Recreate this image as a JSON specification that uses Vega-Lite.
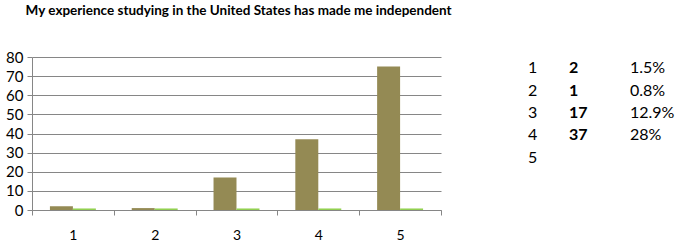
{
  "$schema": "https://vega.github.io/schema/vega-lite/v6.json",
  "padding": {"left": 5, "top": 3, "right": 0, "bottom": 0},
  "bounds": "flush",
  "spacing": 87,
  "title": {"text": "My experience studying in the United States has made me independent", "anchor": "start", "font": "Lato", "fontSize": 13.5, "fontWeight": "bold", "color": "#000000", "offset": 33, "dx": 20},
  "config": {"view": {"stroke": null}, "font": "Lato"},
  "hconcat": [
    {
      "width": 409,
      "height": 153,
      "data": {"values": [
        {"answer": "1", "series": "a", "value": 2},
        {"answer": "1", "series": "b", "value": 0.8},
        {"answer": "2", "series": "a", "value": 1},
        {"answer": "2", "series": "b", "value": 0.8},
        {"answer": "3", "series": "a", "value": 17},
        {"answer": "3", "series": "b", "value": 0.8},
        {"answer": "4", "series": "a", "value": 37},
        {"answer": "4", "series": "b", "value": 0.8},
        {"answer": "5", "series": "a", "value": 75},
        {"answer": "5", "series": "b", "value": 0.8}
      ]},
      "mark": {"type": "bar"},
      "encoding": {
        "x": {"field": "answer", "type": "nominal", "title": null,
              "scale": {"paddingInner": 0, "paddingOuter": 0},
              "axis": {"labelAngle": 0, "tickBand": "extent", "tickSize": 5, "labelPadding": 13, "labelFontSize": 14, "labelColor": "#000000", "domainColor": "#868686", "tickColor": "#868686", "grid": false}},
        "xOffset": {"field": "series", "scale": {"paddingInner": 0, "paddingOuter": 0.78}},
        "y": {"field": "value", "type": "quantitative", "title": null,
              "scale": {"domain": [0, 80], "nice": false},
              "axis": {"values": [0, 10, 20, 30, 40, 50, 60, 70, 80], "tickSize": 5, "labelPadding": 4, "labelFontSize": 15, "labelColor": "#000000", "domainColor": "#868686", "tickColor": "#868686", "gridColor": "#868686", "gridOpacity": 1}},
        "color": {"field": "series", "type": "nominal", "legend": null,
                  "scale": {"domain": ["a", "b"], "range": ["#948A54", "#92D050"]}}
      }
    },
    {
      "width": 130,
      "height": 112,
      "data": {"values": [
        {"answer": "1", "count": "2", "percent": "1.5%"},
        {"answer": "2", "count": "1", "percent": "0.8%"},
        {"answer": "3", "count": "17", "percent": "12.9%"},
        {"answer": "4", "count": "37", "percent": "28%"},
        {"answer": "5", "count": "", "percent": ""}
      ]},
      "encoding": {
        "y": {"field": "answer", "type": "ordinal", "axis": null, "scale": {"type": "point", "padding": 0.49}}
      },
      "layer": [
        {"mark": {"type": "text", "align": "left", "baseline": "middle", "fontSize": 16, "font": "Lato"},
         "encoding": {"x": {"datum": 0, "type": "quantitative", "axis": null, "scale": {"domain": [0, 130]}}, "text": {"field": "answer"}}},
        {"mark": {"type": "text", "align": "left", "baseline": "middle", "fontSize": 16, "font": "Lato", "fontWeight": "bold"},
         "encoding": {"x": {"datum": 41, "type": "quantitative"}, "text": {"field": "count"}}},
        {"mark": {"type": "text", "align": "left", "baseline": "middle", "fontSize": 16, "font": "Lato"},
         "encoding": {"x": {"datum": 102, "type": "quantitative"}, "text": {"field": "percent"}}}
      ]
    }
  ]
}
